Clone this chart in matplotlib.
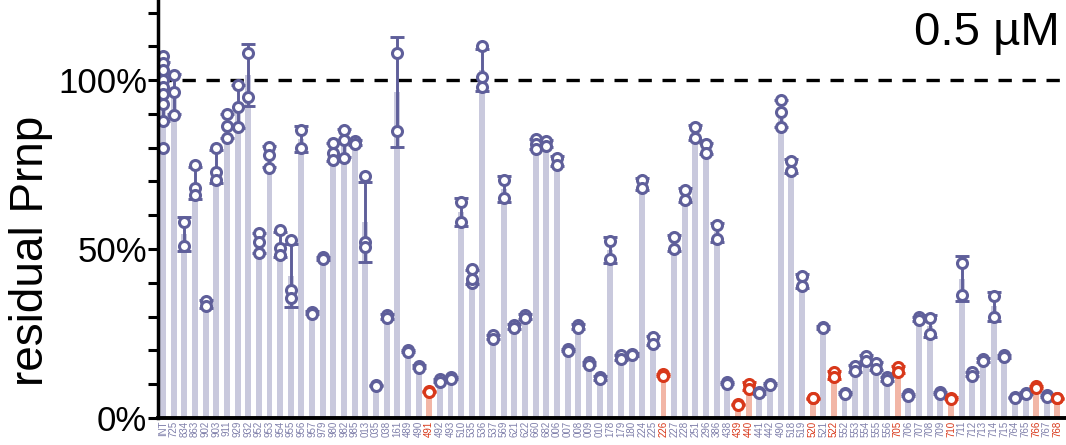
import numpy as np
import matplotlib
matplotlib.use("Agg")
import matplotlib.pyplot as plt

plt.rcParams['font.family'] = ['Liberation Sans', 'DejaVu Sans']

labels = ["INT", "725", "834", "863", "902", "903", "911", "929", "932", "952",
          "953", "954", "955", "956", "957", "979", "980", "982", "985", "013",
          "035", "038", "161", "489", "490", "491", "492", "493", "510", "535",
          "536", "537", "569", "621", "622", "660", "682", "006", "007", "008",
          "009", "010", "178", "179", "180", "224", "225", "226", "227", "228",
          "251", "296", "386", "438", "439", "440", "441", "442", "490", "518",
          "519", "520", "521", "522", "552", "553", "554", "555", "556", "705",
          "706", "707", "708", "709", "710", "711", "712", "713", "714", "715",
          "764", "765", "766", "767", "768"]

highlight = {25, 47, 54, 55, 61, 63, 69, 74, 82, 84}   # indices drawn in red

replicates = [
    [107, 105, 103, 100, 98, 96, 93, 88, 80],   # INT
    [101.5, 96.4, 89.6],   # 725
    [58, 51],              # 834
    [75, 68, 66],          # 863
    [34.5, 33],            # 902
    [80, 72.8, 70.4],      # 903
    [90, 86.5, 83],        # 911
    [98.5, 92, 86],        # 929
    [108, 95],             # 932
    [54.7, 52, 48.8],      # 952
    [80.2, 77.8, 74],      # 953
    [55.6, 50.3, 48.2],    # 954
    [52.7, 37.9, 35.5],    # 955
    [85.2, 79.9],          # 956
    [31.5, 30.8],          # 957
    [47.5, 47],            # 979
    [81.4, 78.4, 76.3],    # 980
    [85.2, 82.2, 77],      # 982
    [82, 81],              # 985
    [71.5, 52, 50.5],      # 013
    [9.8, 9.6],            # 035
    [30.5, 29.5],          # 038
    [108, 85],             # 161
    [20, 19.5],            # 489
    [15.5, 14.8],          # 490
    [8, 7.8],              # 491
    [11.5, 10.8],          # 492
    [12, 11.5],            # 493
    [64, 58],              # 510
    [44, 40, 41],          # 535
    [110, 101, 98],        # 536
    [24.5, 23.5],          # 537
    [70.5, 65],            # 569
    [27.5, 26.5],          # 621
    [30.5, 29.5],          # 622
    [82.5, 81, 79.5],      # 660
    [82, 80.5],            # 682
    [77, 75],              # 006
    [20.3, 19.8],          # 007
    [27.5, 26.5],          # 008
    [16.5, 15.8],          # 009
    [12.2, 11.5],          # 010
    [52.5, 47],            # 178
    [18.5, 17.5],          # 179
    [19, 18.5],            # 180
    [70.5, 68],            # 224
    [24, 22],              # 225
    [13, 12.5],            # 226
    [53.5, 50],            # 227
    [67.5, 64.5],          # 228
    [86, 83],              # 251
    [81, 78.5],            # 296
    [57, 53],              # 386
    [10.6, 10.2],          # 438
    [4.2, 3.8],            # 439
    [10.2, 8.5],           # 440
    [7.8, 7.3],            # 441
    [10.2, 9.8],           # 442
    [94, 90.5, 86],        # 490
    [76, 73],              # 518
    [42, 39],              # 519
    [6, 5.8],              # 520
    [27, 26.5],            # 521
    [13.5, 12],            # 522
    [7.5, 7.2],            # 552
    [15.5, 14],            # 553
    [18.3, 17],            # 554
    [16.3, 14.5],          # 555
    [12, 11.2],            # 556
    [15, 13.6],            # 705
    [7, 6.5],              # 706
    [29.8, 29],            # 707
    [29.5, 25],            # 708
    [7.6, 7.2],            # 709
    [6, 5.6],              # 710
    [46, 36.5],            # 711
    [13.5, 12.5],          # 712
    [17.5, 16.8],          # 713
    [36, 30],              # 714
    [18.5, 18],            # 715
    [6.3, 6],              # 764
    [7.5, 7.2],            # 765
    [9.5, 9],              # 766
    [6.7, 6.3],            # 767
    [6, 5.8],              # 768
]

PURPLE = '#5f5f9a'
BAR = '#c9c9dd'
RED = '#d8381a'
REDBAR = '#f2b6a6'
TICKCOL = '#7f7faa'

fig = plt.figure(figsize=(10.66, 4.45), dpi=100)
ax = fig.add_axes([158 / 1066, 27 / 445, 908 / 1066, 418 / 445])

x = np.arange(len(labels))
means = np.array([np.mean(r) for r in replicates])
sds = np.array([np.std(r, ddof=1) for r in replicates])

bar_colors = [REDBAR if i in highlight else BAR for i in x]
ax.bar(x, means, width=0.56, color=bar_colors, zorder=1)

ax.axhline(100, color='black', lw=2.4, ls=(0, (4.0, 3.2)), zorder=1.5)

for i in x:
    c = RED if i in highlight else PURPLE
    ax.errorbar(i, means[i], yerr=sds[i], fmt='none', ecolor=c, elinewidth=2.1,
                capsize=4.8, capthick=2.1, zorder=2)
    ax.plot([i] * len(replicates[i]), replicates[i], 'o', ms=7.2, mfc='white',
            mec=c, mew=2.2, zorder=3, clip_on=False)

ax.set_xlim(-0.47, 84.8)
ax.set_ylim(0, 123.7)

ax.set_yticks([0, 50, 100])
ax.set_yticklabels(['0%', '50%', '100%'], fontsize=25)
ax.set_yticks(np.arange(0, 121, 10), minor=True)
ax.tick_params(axis='y', which='both', direction='out', length=7, width=2.2, pad=1)

ax.set_xticks(x)
ax.set_xticklabels(labels, rotation=90, fontsize=7)
ax.tick_params(axis='x', length=0, pad=2)
for i, t in enumerate(ax.get_xticklabels()):
    t.set_color(RED if i in highlight else TICKCOL)

for s in ['top', 'right']:
    ax.spines[s].set_visible(False)
ax.spines['left'].set_linewidth(2.5)
ax.spines['bottom'].set_linewidth(2.8)
ax.spines['left'].set_zorder(4)
ax.spines['bottom'].set_zorder(4)

ax.set_ylabel('residual Prnp', fontsize=33, labelpad=2)
ax.yaxis.set_label_coords(-0.116, 0.4)

fig.text(0.994, 0.925, '0.5 µM', ha='right', va='center', fontsize=34)

fig.savefig('out.png', dpi=100)
